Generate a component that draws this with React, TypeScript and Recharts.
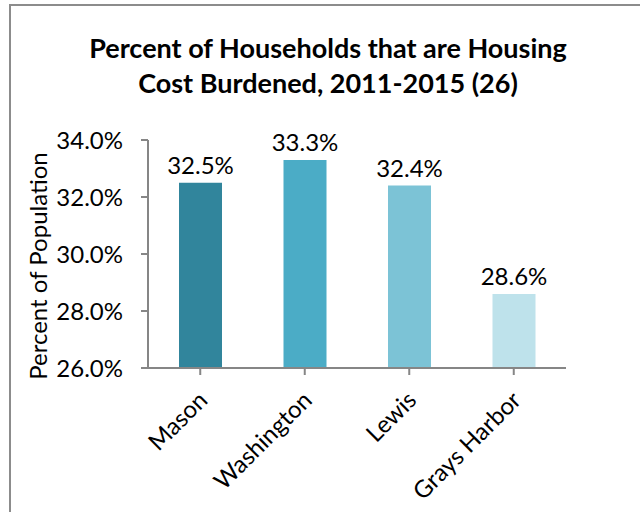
import React from 'react';
import { BarChart, Bar, XAxis, YAxis, Cell, LabelList, Label } from 'recharts';

const categories = ['Mason', 'Washington', 'Lewis', 'Grays Harbor'];
const values = [32.5, 33.3, 32.4, 28.6];
const barColors = ['#31859C', '#4BACC6', '#7CC3D6', '#BEE2EB'];
const yTicks = [26, 28, 30, 32, 34];
const titleLines = ['Percent of Households that are Housing', 'Cost Burdened, 2011-2015 (26)'];
const yLabel = 'Percent of Population';

const data = categories.map((name, i) => ({ name, value: values[i] }));

const FONT = 'Lato, "Noto Sans", sans-serif';
const AXIS = '#868686';
const FS = 24;

const XTick = (props: any) => {
  const { x, y, payload } = props;
  const ty = y + 18;
  const tx = x + 2;
  return (
    <text
      x={tx}
      y={ty}
      transform={`rotate(-45 ${tx} ${ty})`}
      textAnchor="end"
      dominantBaseline="central"
      fontFamily={FONT}
      fontSize={FS}
      fill="#000"
    >
      {payload.value}
    </text>
  );
};

export default function App() {
  return (
    <div style={{ position: 'absolute', left: 0, top: 0, width: 640, height: 512, overflow: 'hidden', background: '#fff' }}>
      <div
        style={{
          position: 'absolute',
          left: 9,
          top: 4,
          width: 800,
          height: 700,
          borderLeft: '2px solid #8C8C8C',
          borderTop: '2px solid #8C8C8C',
        }}
      />
      <div
        style={{
          position: 'absolute',
          left: 0,
          top: 30,
          width: 656,
          textAlign: 'center',
          fontFamily: FONT,
          fontWeight: 700,
          fontSize: 27,
          lineHeight: '35px',
          color: '#000',
        }}
      >
        {titleLines.map((l) => (
          <div key={l}>{l}</div>
        ))}
      </div>
      <div style={{ position: 'absolute', left: 0, top: 0 }}>
        <BarChart
          width={640}
          height={512}
          data={data}
          margin={{ top: 140, right: 74, bottom: 44, left: 28 }}
          barSize={43}
        >
          <XAxis
            dataKey="name"
            height={100}
            axisLine={{ stroke: AXIS, strokeWidth: 2 }}
            tickLine={{ stroke: AXIS, strokeWidth: 2 }}
            tickSize={7}
            interval={0}
            tick={<XTick />}
          />
          <YAxis
            width={120}
            domain={[26, 34]}
            ticks={yTicks}
            allowDataOverflow
            axisLine={{ stroke: AXIS, strokeWidth: 2 }}
            tickLine={{ stroke: AXIS, strokeWidth: 2 }}
            tickSize={7}
            tickMargin={18}
            tickFormatter={(v: number) => `${v.toFixed(1)}%`}
            tick={{ fill: '#000', fontSize: FS, fontFamily: FONT }}
          >
            <Label
              content={(p: any) => {
                const vb = p.viewBox || {};
                const cx = vb.x + 9;
                const cy = vb.y + vb.height / 2 + 12;
                return (
                  <text
                    x={cx}
                    y={cy}
                    transform={`rotate(-90 ${cx} ${cy})`}
                    textAnchor="middle"
                    dominantBaseline="central"
                    fontFamily={FONT}
                    fontSize={FS}
                    fill="#000"
                  >
                    {yLabel}
                  </text>
                );
              }}
            />
          </YAxis>
          <Bar dataKey="value" isAnimationActive={false}>
            {data.map((d, i) => (
              <Cell key={d.name} fill={barColors[i]} />
            ))}
            <LabelList
              dataKey="value"
              position="top"
              offset={9}
              formatter={(v: any) => `${Number(v).toFixed(1)}%`}
              style={{ fill: '#000', fontSize: FS, fontFamily: FONT }}
            />
          </Bar>
        </BarChart>
      </div>
    </div>
  );
}
